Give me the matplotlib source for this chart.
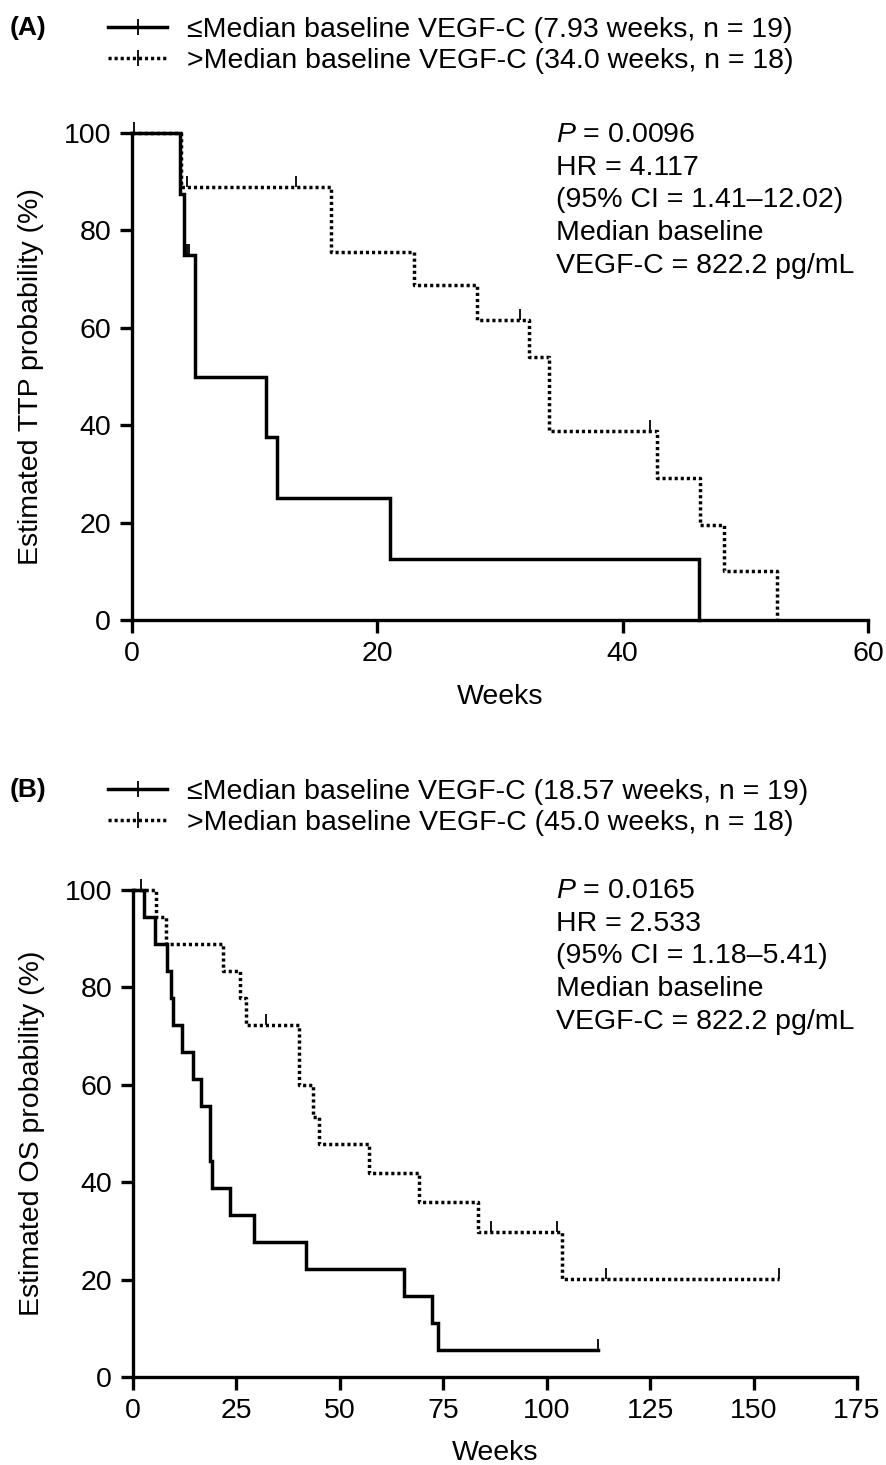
import numpy as np
import matplotlib
matplotlib.use('Agg')
import matplotlib.pyplot as plt
from matplotlib.lines import Line2D

plt.rcParams['font.family'] = ['Liberation Sans', 'DejaVu Sans']
plt.rcParams['mathtext.fontset'] = 'custom'
plt.rcParams['mathtext.it'] = 'Liberation Sans:italic'
plt.rcParams['mathtext.rm'] = 'Liberation Sans'

# --- Panel A: time to progression (weeks, % estimated) ---
a_low_t = [0, 3.9, 4.2, 5.1, 10.9, 11.8, 21.0, 46.2]
a_low_s = [100, 87.5, 75, 50, 37.5, 25, 12.5, 0]
a_low_cens = [0.2, 4.5, 4.65]

a_high_t = [0, 4.0, 16.2, 23.0, 28.1, 32.4, 34.0, 42.8, 46.3, 48.3, 52.6]
a_high_s = [100, 88.9, 75.5, 68.7, 61.7, 54.0, 38.8, 29.1, 19.6, 10.0, 0]
a_high_cens = [4.5, 13.4, 31.6, 42.2]

# --- Panel B: overall survival ---
b_low_t = [0, 2.7, 5.3, 8.1, 9.1, 9.7, 11.9, 14.6, 16.4, 18.6, 19.2, 23.5,
           29.3, 41.8, 65.4, 72.2, 73.8, 112.3]
b_low_s = [100, 94.4, 88.9, 83.3, 77.8, 72.2, 66.7, 61.1, 55.6, 44.4, 38.9,
           33.3, 27.8, 22.2, 16.7, 11.1, 5.6, 5.6]
b_low_cens = [1.9, 112.3]

b_high_t = [0, 5.6, 7.9, 21.8, 25.9, 27.3, 40.2, 43.6, 45.0, 57.1, 69.2,
            83.5, 103.7, 156.2]
b_high_s = [100, 94.4, 88.9, 83.3, 77.8, 72.2, 60.0, 53.4, 47.8, 41.8, 36.0,
            29.7, 20.1, 20.1]
b_high_cens = [32.1, 86.5, 102.6, 114.4, 156.2]

legend_a = ['≤Median baseline VEGF-C (7.93 weeks, n = 19)',
            '>Median baseline VEGF-C (34.0 weeks, n = 18)']
legend_b = ['≤Median baseline VEGF-C (18.57 weeks, n = 19)',
            '>Median baseline VEGF-C (45.0 weeks, n = 18)']
stats_a = ['$P$ = 0.0096', 'HR = 4.117', '(95% CI = 1.41–12.02)',
           'Median baseline', 'VEGF-C = 822.2 pg/mL']
stats_b = ['$P$ = 0.0165', 'HR = 2.533', '(95% CI = 1.18–5.41)',
           'Median baseline', 'VEGF-C = 822.2 pg/mL']

FS = 20.5
LW = 2.5
DOT = (0, (0.9, 0.85))
CENS = [(0, 0), (0, 1)]

W, H = 887, 1465
fig = plt.figure(figsize=(W / 100, H / 100), dpi=100)


def px_axes(l, t, r, b):
    return fig.add_axes([l / W, 1 - b / H, (r - l) / W, (b - t) / H])


def surv_at(t_list, s_list, tc):
    idx = np.searchsorted(t_list, tc, side='right') - 1
    return np.array(s_list)[idx]


def km(ax, t, s, cens, ls):
    ax.step(t, s, where='post', color='black', lw=LW, ls=ls,
            clip_on=False, solid_joinstyle='miter', dash_capstyle='butt')
    ax.plot(cens, surv_at(t, s, cens), ls='none', marker=CENS,
            markersize=16, mew=1.3, color='black', clip_on=False)


def style(ax, xmax, xstep, ylabel):
    ax.set_xlim(0, xmax)
    ax.set_ylim(0, 100)
    ax.set_xticks(np.arange(0, xmax + 1, xstep))
    ax.set_yticks(np.arange(0, 101, 20))
    for sp in ['top', 'right']:
        ax.spines[sp].set_visible(False)
    for sp in ['left', 'bottom']:
        ax.spines[sp].set_linewidth(2.4)
    ax.tick_params(direction='out', length=9, width=2.4, labelsize=FS, pad=6)
    ax.set_xlabel('Weeks', fontsize=FS, labelpad=12)
    ax.set_ylabel(ylabel, fontsize=FS, labelpad=14)


def legend(labels, top_px, tag):
    handles = [Line2D([], [], color='black', lw=LW, ls='-', marker='|',
                      markersize=12, mew=1.3),
               Line2D([], [], color='black', lw=LW, ls=DOT, marker='|',
                      markersize=12, mew=1.3)]
    fig.legend(handles, labels, loc='upper left',
               bbox_to_anchor=(102 / W, 1 - top_px / H), frameon=False,
               fontsize=FS, handlelength=2.1, handletextpad=0.7,
               labelspacing=0.2, numpoints=1, borderaxespad=0, borderpad=0.2)
    fig.text(10 / W, 1 - (top_px + 17) / H, tag, fontsize=FS - 1.5,
             fontweight='bold', va='center', ha='left')


def stats(lines, x_px, y_px):
    for i, line in enumerate(lines):
        fig.text(x_px / W, 1 - (y_px + i * 32.7) / H, line, fontsize=FS,
                 va='center', ha='left')


# Panel A
axA = px_axes(132, 133, 868, 620)
km(axA, a_low_t, a_low_s, a_low_cens, '-')
km(axA, a_high_t, a_high_s, a_high_cens, DOT)
style(axA, 60, 20, 'Estimated TTP probability (%)')
legend(legend_a, 11, '(A)')
stats(stats_a, 556, 135)

# Panel B
axB = px_axes(133, 890, 857, 1377)
km(axB, b_low_t, b_low_s, b_low_cens, '-')
km(axB, b_high_t, b_high_s, b_high_cens, DOT)
style(axB, 175, 25, 'Estimated OS probability (%)')
legend(legend_b, 773, '(B)')
stats(stats_b, 556, 891)

fig.savefig('out.png', dpi=100)
